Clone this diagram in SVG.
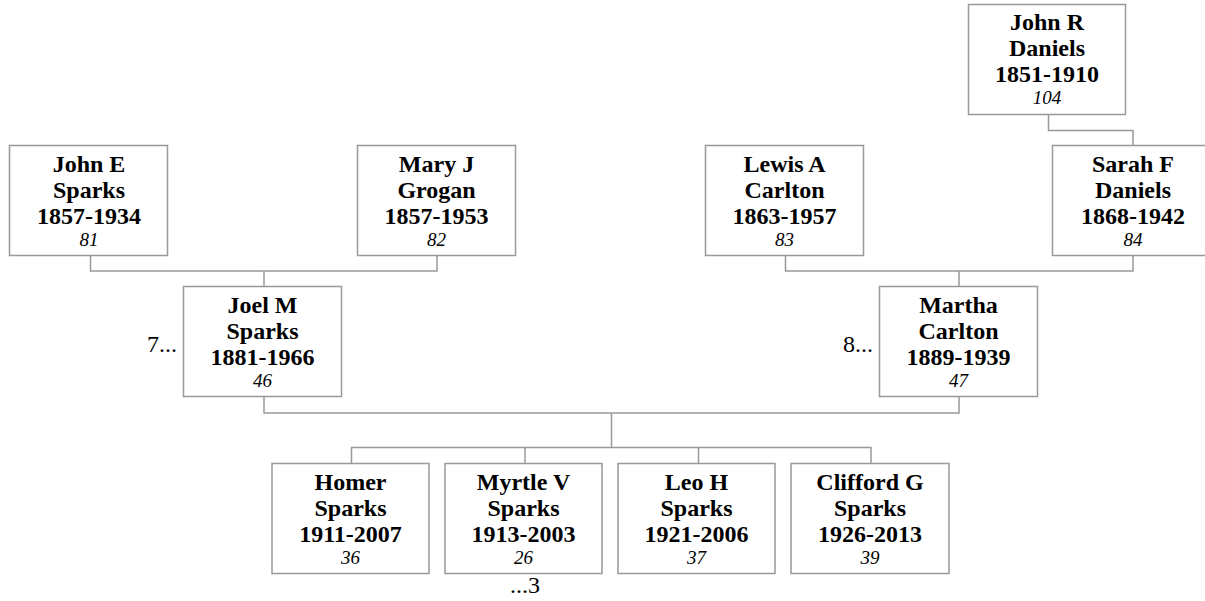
<svg xmlns="http://www.w3.org/2000/svg" width="1205" height="601" viewBox="0 0 1205 601">
<style>
rect.b{fill:#fff;stroke:#999;stroke-width:1.5}
.c path{fill:none;stroke:#999;stroke-width:1.5}
text{font-family:"Liberation Serif","Times New Roman",serif;fill:#000;text-anchor:middle}
.n{font-size:24px;font-weight:bold}
.i{font-size:19px;font-style:italic}
.r{font-size:24px}
</style>
<rect width="1205" height="601" fill="#fff"/>
<g class="c" id="connectors">
<path d="M90.5 255.5V271H437V255.5M264 271V286.5"/>
<path d="M785.5 255.5V271H1133V255.5M959 271V286.5"/>
<path d="M1048.5 114.5V130.5H1133V145.5"/>
<path d="M264 396.5V413H959V396.5M611.5 413V447.5"/>
<path d="M351.5 463.5V447.5H871V463.5M525 447.5V463.5M698.5 447.5V463.5"/>
</g>
<g id="n81"><rect class="b" x="9.5" y="145.5" width="158" height="110"/>
<text class="n" x="89" y="171.5">John E</text><text class="n" x="89" y="198">Sparks</text><text class="n" x="89" y="224">1857-1934</text><text class="i" x="89" y="245.5">81</text></g>
<g id="n82"><rect class="b" x="357.5" y="145.5" width="158" height="110"/>
<text class="n" x="436.5" y="171.5">Mary J</text><text class="n" x="436.5" y="198">Grogan</text><text class="n" x="436.5" y="224">1857-1953</text><text class="i" x="436.5" y="245.5">82</text></g>
<g id="n83"><rect class="b" x="705.5" y="145.5" width="158" height="110"/>
<text class="n" x="784.5" y="171.5">Lewis A</text><text class="n" x="784.5" y="198">Carlton</text><text class="n" x="784.5" y="224">1863-1957</text><text class="i" x="784.5" y="245.5">83</text></g>
<g id="n84"><rect class="b" x="1052.5" y="145.5" width="160" height="110"/>
<text class="n" x="1133" y="171.5">Sarah F</text><text class="n" x="1133" y="198">Daniels</text><text class="n" x="1133" y="224">1868-1942</text><text class="i" x="1133" y="245.5">84</text></g>
<g id="n104"><rect class="b" x="968.5" y="4.5" width="157" height="110"/>
<text class="n" x="1047" y="30">John R</text><text class="n" x="1047" y="56">Daniels</text><text class="n" x="1047" y="82">1851-1910</text><text class="i" x="1047" y="104">104</text></g>
<g id="n46"><rect class="b" x="183.5" y="286.5" width="158" height="110"/>
<text class="n" x="262.5" y="312.5">Joel M</text><text class="n" x="262.5" y="339">Sparks</text><text class="n" x="262.5" y="365">1881-1966</text><text class="i" x="262.5" y="386.5">46</text></g>
<g id="n47"><rect class="b" x="879.5" y="286.5" width="158" height="110"/>
<text class="n" x="958.5" y="312.5">Martha</text><text class="n" x="958.5" y="339">Carlton</text><text class="n" x="958.5" y="365">1889-1939</text><text class="i" x="958.5" y="386.5">47</text></g>
<g id="n36"><rect class="b" x="272" y="463.5" width="157" height="110"/>
<text class="n" x="350.5" y="489.5">Homer</text><text class="n" x="350.5" y="516">Sparks</text><text class="n" x="350.5" y="542">1911-2007</text><text class="i" x="350.5" y="563.5">36</text></g>
<g id="n26"><rect class="b" x="445" y="463.5" width="157" height="110"/>
<text class="n" x="523.5" y="489.5">Myrtle V</text><text class="n" x="523.5" y="516">Sparks</text><text class="n" x="523.5" y="542">1913-2003</text><text class="i" x="523.5" y="563.5">26</text></g>
<g id="n37"><rect class="b" x="618" y="463.5" width="157" height="110"/>
<text class="n" x="696.5" y="489.5">Leo H</text><text class="n" x="696.5" y="516">Sparks</text><text class="n" x="696.5" y="542">1921-2006</text><text class="i" x="696.5" y="563.5">37</text></g>
<g id="n39"><rect class="b" x="791" y="463.5" width="158" height="110"/>
<text class="n" x="870" y="489.5">Clifford G</text><text class="n" x="870" y="516">Sparks</text><text class="n" x="870" y="542">1926-2013</text><text class="i" x="870" y="563.5">39</text></g>
<g id="more">
<text class="r" x="177" y="352" style="text-anchor:end">7...</text>
<text class="r" x="873" y="352" style="text-anchor:end">8...</text>
<text class="r" x="525" y="593">...3</text>
</g>
</svg>
